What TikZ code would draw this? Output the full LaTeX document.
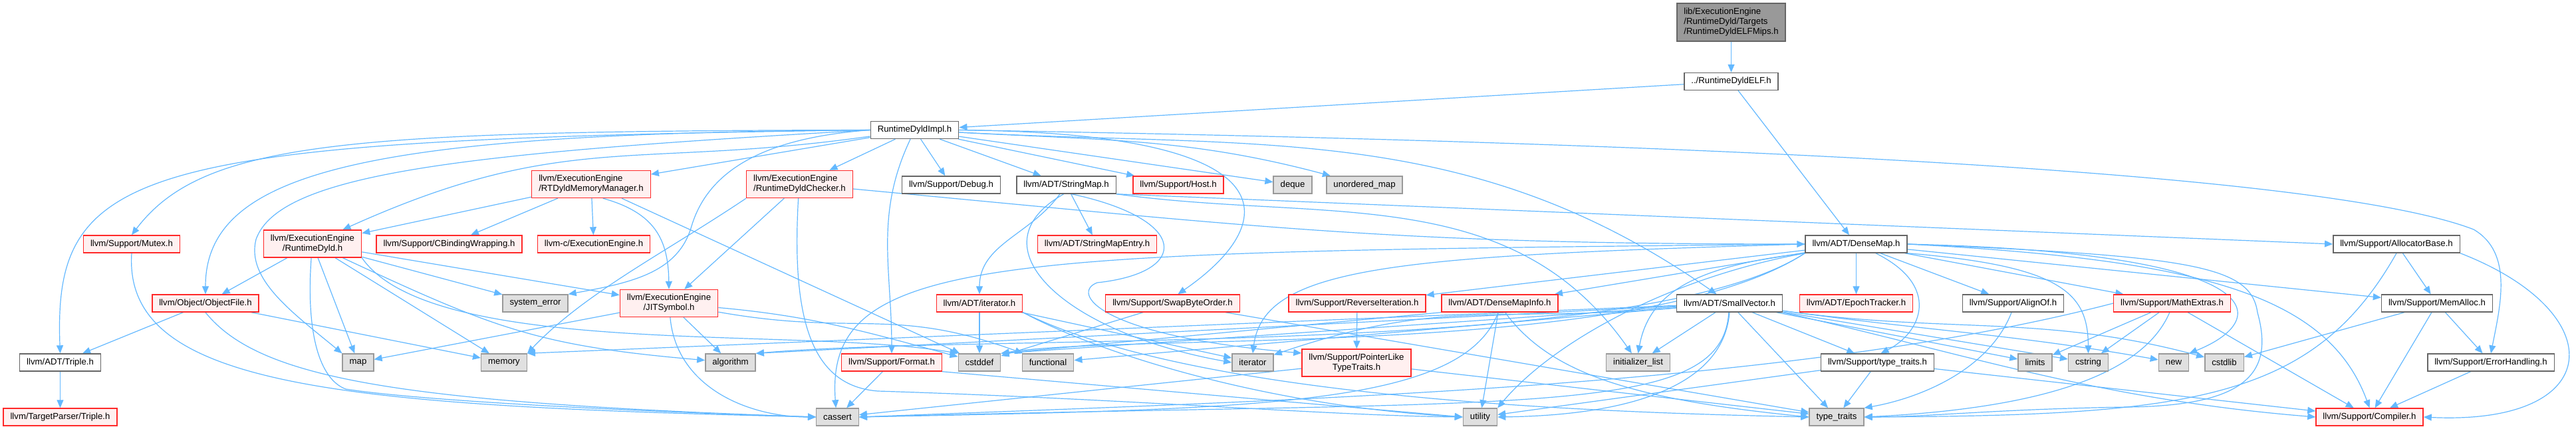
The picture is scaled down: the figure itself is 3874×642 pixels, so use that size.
\documentclass[tikz,border=0pt]{standalone}
\usepackage{fontspec}
\setmainfont{Liberation Sans}
\usetikzlibrary{arrows.meta}
\definecolor{depblue}{HTML}{63B8FF}
\definecolor{hdrred}{RGB}{255,40,40}
\definecolor{hdrpink}{HTML}{FFF0F0}
\definecolor{sysfill}{HTML}{E0E0E0}
\definecolor{sysline}{HTML}{999999}
\definecolor{hdrline}{HTML}{666666}
\definecolor{rootfill}{HTML}{999999}
\pgfdeclarelayer{edges}
\pgfsetlayers{edges,main}

\begin{document}
\begin{tikzpicture}[x=1pt, y=1pt,
  hdr/.style={font=\fontsize{13.2}{15}\selectfont, inner xsep=10.5pt, inner ysep=0pt, minimum height=26pt, line width=1.4pt, align=center},
  plainhdr/.style={hdr, draw=hdrline, fill=white},
  redhdr/.style={hdr, draw=hdrred, fill=hdrpink},
  syshdr/.style={hdr, draw=sysline, fill=sysfill},
  roothdr/.style={hdr, draw=hdrline, fill=rootfill, align=left, minimum height=57pt},
  twoline/.style={minimum height=41pt},
  dep/.style={depblue, line width=1.2pt, -{Triangle[length=12pt,width=10pt]}}]
\useasboundingbox (0,0) rectangle (3874,-642);

% root file and the private header
\node[roothdr] (mips) at (2603.5,-33.5) {lib/ExecutionEngine\\/RuntimeDyld/Targets\\/RuntimeDyldELFMips.h};
\node[plainhdr] (elf) at (2603.5,-122.5) {../RuntimeDyldELF.h};
\node[plainhdr] (impl) at (1375.5,-195.5) {RuntimeDyldImpl.h};

% row 3
\node[redhdr, twoline, align=left] (rtdmm) at (889,-277) {llvm/ExecutionEngine\\/RTDyldMemoryManager.h};
\node[redhdr, twoline, align=left] (checker) at (1202.5,-277) {llvm/ExecutionEngine\\/RuntimeDyldChecker.h};
\node[plainhdr] (debug) at (1430.5,-278) {llvm/Support/Debug.h};
\node[plainhdr] (strmap) at (1603.5,-278) {llvm/ADT/StringMap.h};
\node[redhdr] (host) at (1772,-278) {llvm/Support/Host.h};
\node[syshdr] (deque) at (1944,-278) {deque};
\node[syshdr] (umap) at (2052,-278) {unordered\_map};

% row 4
\node[redhdr] (mutex) at (198,-367) {llvm/Support/Mutex.h};
\node[redhdr, twoline] (rdyld) at (470,-366.5) {llvm/ExecutionEngine\\/RuntimeDyld.h};
\node[redhdr] (cbind) at (675.5,-367) {llvm/Support/CBindingWrapping.h};
\node[redhdr] (cee) at (893,-367) {llvm-c/ExecutionEngine.h};
\node[redhdr] (smentry) at (1650,-367) {llvm/ADT/StringMapEntry.h};
\node[plainhdr] (dmap) at (2791.5,-367) {llvm/ADT/DenseMap.h};
\node[plainhdr] (allocb) at (3604,-367) {llvm/Support/AllocatorBase.h};

% row 5
\node[redhdr] (objfile) at (309,-456) {llvm/Object/ObjectFile.h};
\node[syshdr] (syserr) at (805,-456) {system\_error};
\node[redhdr, twoline] (jitsym) at (1006,-456) {llvm/ExecutionEngine\\/JITSymbol.h};
\node[redhdr] (iterh) at (1473,-456) {llvm/ADT/iterator.h};
\node[redhdr] (swapbo) at (1763.5,-456) {llvm/Support/SwapByteOrder.h};
\node[redhdr] (reviter) at (2041,-456) {llvm/Support/ReverseIteration.h};
\node[redhdr] (dminfo) at (2255.5,-456) {llvm/ADT/DenseMapInfo.h};
\node[plainhdr] (smallvec) at (2601,-456) {llvm/ADT/SmallVector.h};
\node[redhdr] (epoch) at (2791.5,-456) {llvm/ADT/EpochTracker.h};
\node[plainhdr] (alignof) at (3027.5,-456) {llvm/Support/AlignOf.h};
\node[redhdr] (mathx) at (3266.5,-456) {llvm/Support/MathExtras.h};
\node[plainhdr] (memalloc) at (3665,-456) {llvm/Support/MemAlloc.h};

% row 6
\node[plainhdr] (triple) at (90.5,-545) {llvm/ADT/Triple.h};
\node[syshdr] (map) at (538.5,-545) {map};
\node[syshdr] (memory) at (758,-545) {memory};
\node[syshdr] (algorithm) at (1098.5,-545) {algorithm};
\node[redhdr] (format) at (1341,-545) {llvm/Support/Format.h};
\node[syshdr] (cstddef) at (1473,-545) {cstddef};
\node[syshdr] (functional) at (1576,-545) {functional};
\node[syshdr] (iterator) at (1884,-545) {iterator};
\node[redhdr, twoline] (ptrlike) at (2040,-545.5) {llvm/Support/PointerLike\\TypeTraits.h};
\node[syshdr] (initlist) at (2463.5,-545) {initializer\_list};
\node[plainhdr] (suptt) at (2823.5,-545) {llvm/Support/type\_traits.h};
\node[syshdr] (limits) at (3060.5,-545) {limits};
\node[syshdr] (cstring) at (3140.5,-545) {cstring};
\node[syshdr] (newh) at (3269,-545) {new};
\node[syshdr] (cstdlib) at (3345,-545) {cstdlib};
\node[plainhdr] (errh) at (3746,-545) {llvm/Support/ErrorHandling.h};

% bottom row
\node[redhdr] (tptriple) at (90.5,-627) {llvm/TargetParser/Triple.h};
\node[syshdr] (cassert) at (1259.5,-627) {cassert};
\node[syshdr] (utility) at (2226,-627) {utility};
\node[syshdr] (typetraits) at (2762,-627) {type\_traits};
\node[redhdr] (compiler) at (3563.5,-627) {llvm/Support/Compiler.h};

\begin{pgfonlayer}{edges}
% straight includes
\foreach \a/\b in {mips/elf, elf/impl, elf/dmap, impl/rtdmm, impl/checker, impl/debug, impl/strmap, impl/host, impl/deque,
  rtdmm/rdyld, rtdmm/cbind, rtdmm/cee, rtdmm/cstddef, checker/jitsym,
  rdyld/objfile, rdyld/map, rdyld/memory, rdyld/syserr, rdyld/jitsym,
  objfile/triple, objfile/memory, triple/tptriple, jitsym/map, jitsym/algorithm, strmap/smentry,
  iterh/cstddef, iterh/iterator, swapbo/cstddef, swapbo/typetraits, reviter/ptrlike,
  dminfo/utility, ptrlike/cassert, ptrlike/typetraits, format/cassert,
  dmap/dminfo, dmap/reviter, dmap/epoch, dmap/alignof, dmap/mathx, dmap/memalloc,
  smallvec/functional, smallvec/initlist, smallvec/suptt, smallvec/typetraits, smallvec/limits, smallvec/cstring,
  suptt/typetraits, suptt/utility, suptt/compiler, mathx/compiler, mathx/cstring, mathx/limits,
  allocb/memalloc, memalloc/cstdlib, memalloc/compiler, memalloc/errh, errh/compiler}
  \draw[dep] (\a) -- (\b);
\draw[dep] (strmap.south east) -- (allocb.west);
\draw[dep] (dminfo.south west) -- (cstddef.north east);
\draw[dep] (smallvec) -- (cstddef.north east);
\draw[dep] (smallvec) -- (algorithm.north east);
\draw[dep] (smallvec) -- (memory.north east);
\draw[dep] (format.south east) -- (utility.west);

% gently bent includes
\draw[dep] (impl.-3) .. controls (1663,-211) and (1790,-208) .. (umap.165);
\draw[dep] (impl.-115) .. controls (1315,-323) and (1341,-405) .. (format.north);
\draw[dep] (impl.188) .. controls (954,-255) and (849,-195) .. (rdyld.25);
\draw[dep] (impl.-3) .. controls (1895,-223) and (2210,-183) .. (smallvec.145);
\draw[dep] (checker.-5) .. controls (1902,-342) and (2094,-367) .. (dmap.west);
\draw[dep] (jitsym.-85) .. controls (1017,-581) and (1123,-627) .. (cassert.west);
\draw[dep] (jitsym.-5) .. controls (1221,-475) and (1303,-499) .. (cstddef.165);
\draw[dep] (jitsym.-10) .. controls (1288,-506) and (1342,-460) .. (functional.160);
\draw[dep] (strmap.-125) .. controls (1550,-353) and (1473,-367) .. (iterh.north);
\draw[dep] (rdyld.-25) .. controls (744,-494) and (808,-520) .. (algorithm.175);
\draw[dep] (smallvec.185) .. controls (2251,-486) and (2169,-447) .. (iterator.20);
\draw[dep] (smallvec.-8) .. controls (2905,-498) and (3024,-502) .. (newh.170);
\draw[dep] (smallvec.-8) .. controls (2930,-502) and (3073,-472) .. (cstdlib.165);
\draw[dep] (strmap.south east) .. controls (1994,-335) and (2272,-272) .. (initlist.125);

% long sweeps from RuntimeDyldImpl.h
\draw[dep] (impl.west) .. controls (200,-210) and (80,-250) .. (triple.north);
\draw[dep] (impl.west) .. controls (524,-197) and (306,-211) .. (mutex.north);
\draw[dep] (impl.west) .. controls (560,-200) and (309,-255) .. (objfile.north);
\draw[dep] (impl.west) .. controls (700,-230) and (420,-260) .. (385,-360) .. controls (370,-420) and (440,-470) .. (map.north west);
\draw[dep] (impl.west) .. controls (1180,-205) and (1070,-240) .. (1040,-340) .. controls (1020,-410) and (950,-425) .. (syserr.north east);
\draw[dep] (impl.east) .. controls (1960,-200) and (1920,-340) .. (swapbo.60);
\draw[dep] (impl.east) .. controls (2600,-215) and (3500,-260) .. (3720,-345) .. controls (3780,-380) and (3760,-460) .. (errh.north);

% left part
\draw[dep] (rtdmm.-50) .. controls (985,-320) and (1005,-360) .. (jitsym.north);
\draw[dep] (checker.south west) .. controls (1000,-380) and (880,-440) .. (memory.north east);
\draw[dep] (checker.-95) .. controls (1190,-480) and (1220,-580) .. (1320,-588) .. controls (1700,-600) and (2000,-625) .. (utility.west);
\draw[dep] (rdyld.-95) .. controls (460,-500) and (480,-570) .. (520,-585) .. controls (650,-605) and (1000,-620) .. (cassert.west);
\draw[dep] (rdyld.south east) .. controls (650,-540) and (1200,-490) .. (cstddef.north west);
\draw[dep] (objfile.south) .. controls (390,-570) and (600,-605) .. (cassert.west);
\draw[dep] (mutex.south) .. controls (185,-580) and (500,-610) .. (cassert.west);

% middle part
\draw[dep] (strmap.-105) .. controls (1460,-370) and (1600,-500) .. (iterator.west);
\draw[dep] (strmap.-60) .. controls (1790,-330) and (1790,-410) .. (1650,-425) .. controls (1610,-440) and (1650,-505) .. (ptrlike.170);
\draw[dep] (iterh.south east) .. controls (1650,-530) and (1900,-610) .. (utility.west);
\draw[dep] (iterh.south east) .. controls (1800,-600) and (2400,-620) .. (typetraits.west);
\draw[dep] (dminfo.-100) .. controls (2200,-610) and (1900,-615) .. (cassert.east);
\draw[dep] (dminfo.-60) .. controls (2330,-560) and (2450,-600) .. (typetraits.west);
\draw[dep] (smallvec.-95) .. controls (2590,-630) and (2300,-600) .. (cassert.east);
\draw[dep] (smallvec.-90) .. controls (2590,-600) and (2400,-625) .. (utility.east);
\draw[dep] (smallvec.south east) .. controls (2950,-530) and (3150,-600) .. (compiler.west);

% DenseMap.h
\draw[dep] (dmap.-25) .. controls (2920,-430) and (2890,-500) .. (suptt.70);
\draw[dep] (dmap.east) .. controls (3300,-390) and (3500,-440) .. (compiler.north);
\draw[dep] (dmap.south west) .. controls (2470,-540) and (1500,-500) .. (algorithm.north east);
\draw[dep] (dmap.south west) .. controls (2470,-540) and (1700,-500) .. (cstddef.north east);
\draw[dep] (dmap.west) .. controls (1500,-380) and (1240,-380) .. (cassert.100);
\draw[dep] (dmap.west) .. controls (2100,-385) and (1900,-400) .. (iterator.north);
\draw[dep] (dmap.south west) .. controls (2550,-400) and (2480,-440) .. (initlist.north);
\draw[dep] (dmap.south west) .. controls (2500,-420) and (2330,-520) .. (utility.north east);
\draw[dep] (dmap.south east) .. controls (3100,-400) and (3140,-440) .. (cstring.north);
\draw[dep] (dmap.east) .. controls (3420,-380) and (3420,-480) .. (newh.north east);
\draw[dep] (dmap.east) .. controls (3300,-385) and (3385,-400) .. (3395,-470) .. controls (3420,-560) and (3380,-610) .. (3200,-612) .. controls (3000,-615) and (2900,-627) .. (typetraits.east);

% right part
\draw[dep] (allocb.south) .. controls (3480,-600) and (3300,-625) .. (typetraits.east);
\draw[dep] (allocb.south east) .. controls (3930,-470) and (3920,-640) .. (compiler.east);
\draw[dep] (mathx.-105) .. controls (3220,-570) and (3050,-615) .. (typetraits.east);
\draw[dep] (mathx.west) .. controls (2700,-580) and (2000,-600) .. (cassert.east);
\draw[dep] (alignof.-100) .. controls (2990,-560) and (2880,-600) .. (typetraits.north east);
\end{pgfonlayer}
\end{tikzpicture}
\end{document}
